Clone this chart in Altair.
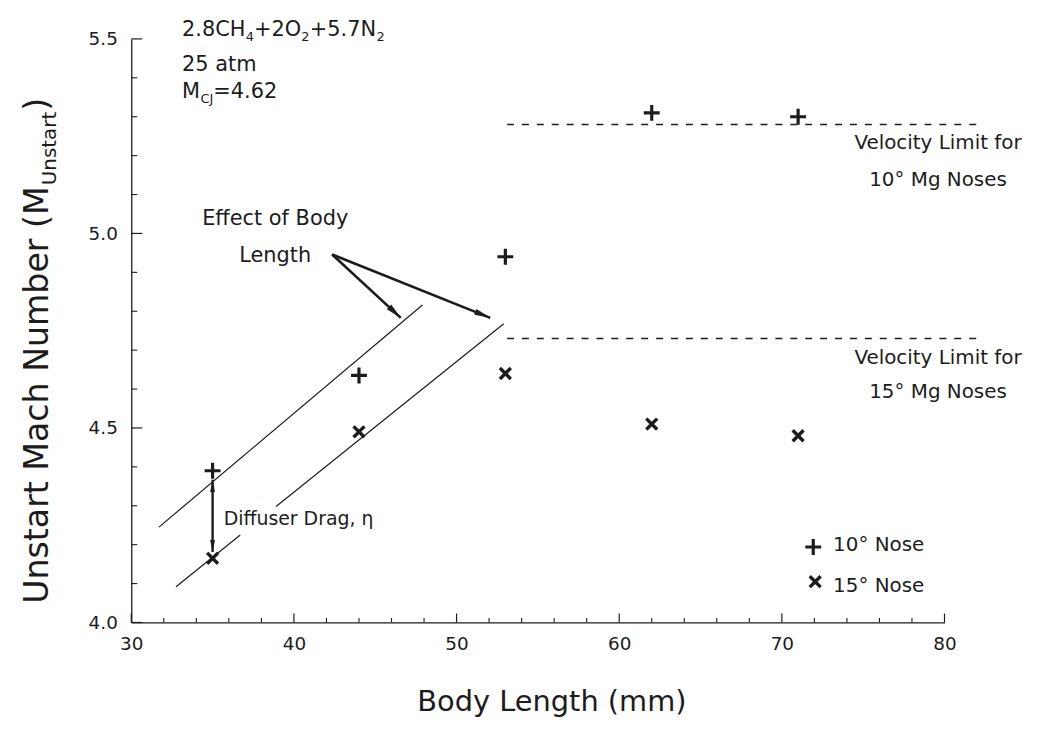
import math
import altair as alt
import pandas as pd

# ---------------- data ----------------
body_length = [35, 44, 53, 62, 71]
mach_10deg = [4.39, 4.635, 4.94, 5.31, 5.30]
mach_15deg = [4.165, 4.49, 4.64, 4.51, 4.48]

x_major_ticks = [30, 40, 50, 60, 70, 80]
x_minor_ticks = [32, 34, 36, 38, 42, 44, 46, 48, 52, 54, 56, 58,
                 62, 64, 66, 68, 72, 74, 76, 78]
y_major_ticks = [4.0, 4.5, 5.0, 5.5]
y_minor_ticks = [4.1, 4.2, 4.3, 4.4, 4.6, 4.7, 4.8, 4.9,
                 5.1, 5.2, 5.3, 5.4]

limit_levels = [5.28, 4.73]          # velocity limits (10 deg, 15 deg)
limit_span = [53.1, 82.1]

trend_x1 = [31.7, 32.75, 38.9]
trend_y1 = [4.245, 4.092, 4.298]
trend_x2 = [47.9, 36.7, 52.9]
trend_y2 = [4.816, 4.225, 4.768]

effect_from = [42.35, 4.946]
effect_tip_x = [46.57, 52.07]
effect_tip_y = [4.783, 4.783]

drag_x = 35
drag_y = [4.367, 4.181]

# ---------------- styling ----------------
W, H = 818, 587
X0, X1, Y0, Y1 = 30, 80, 4.0, 5.5
FONT = "DejaVu Sans"
INK = "#1c1c1c"

xs = alt.Scale(domain=[X0, X1], nice=False, zero=False)
ys = alt.Scale(domain=[Y0, Y1], nice=False, zero=False)
x_axis = alt.Axis(values=x_major_ticks, ticks=False, grid=False, title=None,
                  labelFontSize=18.5, labelPadding=12, format="d", labelFlush=False)
y_axis = alt.Axis(values=y_major_ticks, ticks=False, grid=False, title=None,
                  labelFontSize=18.5, labelPadding=14, format=".1f", labelFlush=False)
X = alt.X("x:Q", scale=xs, axis=x_axis)
Y = alt.Y("y:Q", scale=ys, axis=y_axis)
X2 = alt.X2("x2:Q")
Y2 = alt.Y2("y2:Q")

px_x = W / (X1 - X0)
px_y = H / (Y1 - Y0)


def segs(x1, y1, x2, y2, **kw):
    df = pd.DataFrame({"x": x1, "y": y1, "x2": x2, "y2": y2})
    return alt.Chart(df).mark_rule(color=INK, **kw).encode(x=X, y=Y, x2=X2, y2=Y2)


def txt(x, y, t, **kw):
    df = pd.DataFrame({"x": [x], "y": [y], "t": [t]})
    style = dict(font=FONT, color=INK, align="left", baseline="alphabetic")
    style.update(kw)
    return alt.Chart(df).mark_text(**style).encode(x=X, y=Y, text="t:N")


layers = []

# inward ticks
maj_x = 9 / px_y
min_x = 4.5 / px_y
maj_y = 11 / px_x
min_y = 6 / px_x
layers.append(segs(x_major_ticks, [Y0] * 6, x_major_ticks, [Y0 + maj_x] * 6, strokeWidth=1.2))
layers.append(segs(x_minor_ticks, [Y0] * len(x_minor_ticks), x_minor_ticks,
                   [Y0 + min_x] * len(x_minor_ticks), strokeWidth=1.1))
layers.append(segs([X0] * 4, y_major_ticks, [X0 + maj_y] * 4, y_major_ticks, strokeWidth=1.2))
layers.append(segs([X0] * len(y_minor_ticks), y_minor_ticks,
                   [X0 + min_y] * len(y_minor_ticks), y_minor_ticks, strokeWidth=1.1))

# velocity limit dashed lines
layers.append(segs([limit_span[0]] * 2, limit_levels, [limit_span[1]] * 2, limit_levels,
                   strokeWidth=1.4, strokeDash=[7, 8]))

# trend lines
layers.append(segs(trend_x1, trend_y1, trend_x2, trend_y2, strokeWidth=1.2))

# effect arrows
layers.append(segs([effect_from[0]] * 2, [effect_from[1]] * 2, effect_tip_x, effect_tip_y,
                   strokeWidth=2.6))
# drag double arrow
layers.append(segs([drag_x], [drag_y[0]], [drag_x], [drag_y[1]], strokeWidth=2.4))

ARROW = "M0,0L-0.4,2L0.4,2Z"
for tx, ty in zip(effect_tip_x, effect_tip_y):
    dxp = (tx - effect_from[0]) * px_x
    dyp = -(ty - effect_from[1]) * px_y
    ang = math.degrees(math.atan2(dxp, -dyp)) % 360
    layers.append(
        alt.Chart(pd.DataFrame({"x": [tx], "y": [ty]})).mark_point(
            shape=ARROW, filled=True, color=INK, size=260, angle=ang, opacity=1
        ).encode(x=X, y=Y)
    )
for yy, ang in zip(drag_y, [0, 180]):
    layers.append(
        alt.Chart(pd.DataFrame({"x": [drag_x], "y": [yy]})).mark_point(
            shape=ARROW, filled=True, color=INK, size=150, angle=ang, opacity=1
        ).encode(x=X, y=Y)
    )

PLUS = "M-1,0L1,0M0,-1L0,1"
CROSS = "M-1,-1L1,1M-1,1L1,-1"

pts10 = pd.DataFrame({"x": body_length + [71.93], "y": mach_10deg + [4.194]})
pts15 = pd.DataFrame({"x": body_length + [72.05], "y": mach_15deg + [4.105]})
layers.append(alt.Chart(pts10).mark_point(shape=PLUS, size=256, strokeWidth=3.2,
                                          color=INK, opacity=1).encode(x=X, y=Y))
layers.append(alt.Chart(pts15).mark_point(shape=CROSS, size=120, strokeWidth=3.4,
                                          color=INK, opacity=1).encode(x=X, y=Y))

# ---------------- text ----------------
# top-left conditions
bx, b1, b2, b3 = 33.12, 5.508, 5.418, 5.349
layers += [
    txt(bx, b1, "2.8CH", fontSize=21),
    txt(bx, b1, "4", fontSize=13, dx=64, dy=5),
    txt(bx, b1, "+2O", fontSize=21, dx=72.5),
    txt(bx, b1, "2", fontSize=13, dx=120, dy=5),
    txt(bx, b1, "+5.7N", fontSize=21, dx=128.5),
    txt(bx, b1, "2", fontSize=13, dx=195.5, dy=5),
    txt(bx, b2, "25 atm", fontSize=21),
    txt(bx, b3, "M", fontSize=21),
    txt(bx, b3, "CJ", fontSize=13, dx=18.5, dy=5),
    txt(bx, b3, "=4.62", fontSize=21, dx=31.5),
]

# annotations
layers += [
    txt(38.85, 5.036, "Effect of Body", fontSize=21, align="center", baseline="middle"),
    txt(38.85, 4.941, "Length", fontSize=21, align="center", baseline="middle"),
    txt(35.68, 4.265, "Diffuser Drag, η", fontSize=19, baseline="middle"),
    txt(79.6, 5.232, "Velocity Limit for", fontSize=20, align="center", baseline="middle"),
    txt(79.6, 5.138, "10° Mg Noses", fontSize=20, align="center", baseline="middle"),
    txt(79.6, 4.679, "Velocity Limit for", fontSize=20, align="center", baseline="middle"),
    txt(79.6, 4.592, "15° Mg Noses", fontSize=20, align="center", baseline="middle"),
    txt(73.15, 4.20, "10° Nose", fontSize=20, baseline="middle"),
    txt(73.15, 4.094, "15° Nose", fontSize=20, baseline="middle"),
]

# axis titles
layers.append(txt(55.86, 3.773, "Body Length (mm)", fontSize=29, align="center"))
tx_, ty_ = 24.87, 4.048
layers += [
    txt(tx_, ty_, "Unstart Mach Number (M", fontSize=33.4, angle=270),
    txt(tx_, ty_, "Unstart", fontSize=20, angle=270, dx=421, dy=8),
    txt(tx_, ty_, ")", fontSize=33.4, angle=270, dx=496),
]

chart = alt.layer(*layers).properties(
    width=W, height=H,
    padding={"left": 124, "top": 29, "right": 85, "bottom": 96},
    autosize=alt.AutoSizeParams(type="none"),
    background="white",
).configure_view(stroke=None).configure_axis(
    labelFont=FONT, labelColor=INK, domainColor=INK, domainWidth=1.3,
)

chart.save("out.html", embed_options={"renderer": "svg", "actions": False})
